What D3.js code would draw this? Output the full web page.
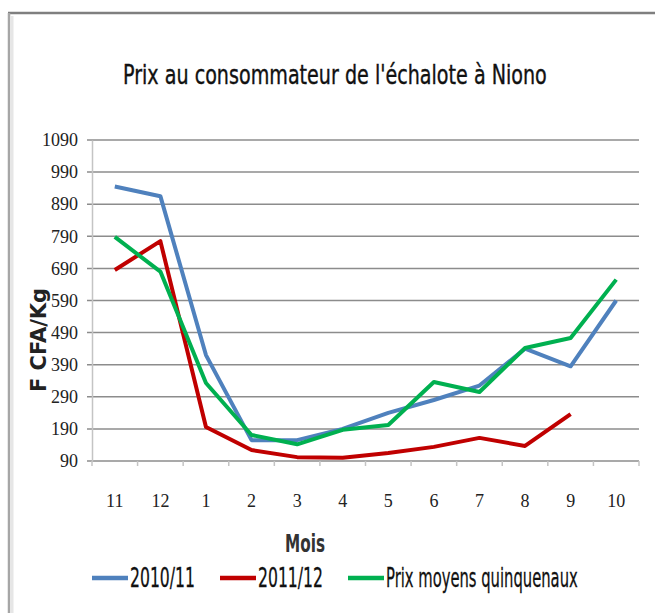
<!DOCTYPE html>
<html>
<head>
<meta charset="utf-8">
<script src="https://cdnjs.cloudflare.com/ajax/libs/d3/7.8.5/d3.min.js"></script>
<style>
  body { margin: 0; background: #fff; }
</style>
</head>
<body>
<div id="chart"></div>
<script>
// chart data
var months = ["11", "12", "1", "2", "3", "4", "5", "6", "7", "8", "9", "10"];
var yTicks = [90, 190, 290, 390, 490, 590, 690, 790, 890, 990, 1090];
var prix2010 = [945, 915, 420, 155, 155, 190, 240, 280, 325, 440, 385, 590];
var prix2011 = [685, 775, 196, 124, 102, 100, 115, 134, 162, 137, 236, null];
var prixQuinq = [788, 680, 333, 171, 142, 187, 202, 336, 305, 442, 473, 655];
var seriesNames = ["2010/11", "2011/12", "Prix moyens quinquenaux"];
var seriesColors = ["#4F81BD", "#C00000", "#00B050"];

// squeeze a text horizontally so it spans the wanted width
function squeeze(sel, x, y, width) {
    var natural = sel.node().getComputedTextLength();
    sel.attr("transform", `translate(${x}, ${y}) scale(${width / natural}, 1)`);
}

function Plot() {
    var svgWidth = 655;
    var svgHeight = 613;

    var svg = d3.select("#chart")
        .append("svg")
        .attr("width", svgWidth)
        .attr("height", svgHeight);

    // frame of the chart area (top and left borders only are visible)
    svg.append("line")
        .attr("x1", 8).attr("y1", 13).attr("x2", svgWidth).attr("y2", 13)
        .attr("stroke", "#7f7f7f").attr("stroke-width", 2.5);
    svg.append("line")
        .attr("x1", 9).attr("y1", 13).attr("x2", 9).attr("y2", svgHeight)
        .attr("stroke", "#a6a6a6").attr("stroke-width", 2.5);
    svg.append("line")
        .attr("x1", 12).attr("y1", 16).attr("x2", 12).attr("y2", svgHeight)
        .attr("stroke", "#e6e6e6").attr("stroke-width", 3);

    // title
    var title = svg.append("text")
        .style("font-family", "'DejaVu Sans', sans-serif")
        .style("font-size", "26px")
        .attr("fill", "#111")
        .attr("stroke", "#111")
        .attr("stroke-width", 0.4)
        .text("Prix au consommateur de l'échalote à Niono");
    squeeze(title, 123, 84, 424);

    // scales
    var xScale = d3.scaleBand()
        .domain(months)
        .range([92, 639])
        .padding(0);

    var yScale = d3.scaleLinear()
        .domain([90, 1090])
        .range([461, 140]);

    // horizontal gridlines
    svg.append("g")
        .selectAll("line")
        .data(yTicks)
        .enter()
        .append("line")
        .attr("x1", 87)
        .attr("x2", 639)
        .attr("y1", d => yScale(d))
        .attr("y2", d => yScale(d))
        .attr("stroke", "#8c8c8c")
        .attr("stroke-width", 1.5);

    // y axis
    var yAxis = svg.append("g")
        .attr("transform", "translate(92,0)")
        .call(d3.axisLeft(yScale).tickValues(yTicks).tickFormat(d3.format("d")).tickSize(0).tickPadding(14));
    yAxis.select(".domain").attr("stroke", "#c4c4c4").attr("stroke-width", 1.5);
    yAxis.selectAll("text")
        .style("font-family", "'Liberation Serif', 'DejaVu Serif', serif")
        .style("font-size", "18px")
        .attr("fill", "#222");

    // x axis
    var xAxis = svg.append("g")
        .attr("transform", "translate(0,461)")
        .call(d3.axisBottom(xScale).tickSize(0).tickPadding(33));
    xAxis.select(".domain").remove();
    xAxis.selectAll("text")
        .style("font-family", "'Liberation Serif', 'DejaVu Serif', serif")
        .style("font-size", "18px")
        .attr("fill", "#222");

    // x tick marks between categories
    var edges = months.map(m => xScale(m)).concat([xScale.range()[1]]);
    svg.append("g")
        .selectAll("line")
        .data(edges)
        .enter()
        .append("line")
        .attr("x1", d => d).attr("x2", d => d)
        .attr("y1", 461).attr("y2", 466)
        .attr("stroke", "#c4c4c4")
        .attr("stroke-width", 1.5);

    // axis titles
    svg.append("text")
        .attr("transform", "translate(46,340) rotate(-90)")
        .attr("text-anchor", "middle")
        .style("font-family", "'DejaVu Sans', sans-serif")
        .style("font-weight", "bold")
        .style("font-size", "21px")
        .attr("fill", "#222")
        .text("F CFA/Kg");

    var mois = svg.append("text")
        .style("font-family", "'DejaVu Sans', sans-serif")
        .style("font-weight", "bold")
        .style("font-size", "25px")
        .attr("fill", "#333")
        .text("Mois");
    squeeze(mois, 285, 552, 40);

    // lines
    var allSeries = [prix2010, prix2011, prixQuinq];
    var line = d3.line()
        .defined(d => d != null)
        .x((d, i) => xScale(months[i]) + xScale.bandwidth() / 2)
        .y(d => yScale(d));

    svg.append("g")
        .selectAll("path")
        .data(allSeries)
        .enter()
        .append("path")
        .attr("d", d => line(d))
        .attr("fill", "none")
        .attr("stroke", (d, i) => seriesColors[i])
        .attr("stroke-width", 4)
        .attr("stroke-linejoin", "round");

    // legend
    var legendX = [92, 220, 348];
    var legendW = [65, 65, 192];
    var legend = svg.append("g")
        .selectAll("g")
        .data(seriesNames)
        .enter()
        .append("g")
        .attr("transform", (d, i) => `translate(${legendX[i]}, 578)`);

    legend.append("line")
        .attr("x1", 0).attr("x2", 36)
        .attr("y1", 0).attr("y2", 0)
        .attr("stroke", (d, i) => seriesColors[i])
        .attr("stroke-width", 4.5);

    legend.append("text")
        .style("font-family", "'DejaVu Sans', sans-serif")
        .style("font-size", "26px")
        .attr("fill", "#111")
        .attr("stroke", "#111")
        .attr("stroke-width", 0.3)
        .text(d => d)
        .each(function(d, i) { squeeze(d3.select(this), 38, 9, legendW[i]); });
}

Plot();
</script>
</body>
</html>
